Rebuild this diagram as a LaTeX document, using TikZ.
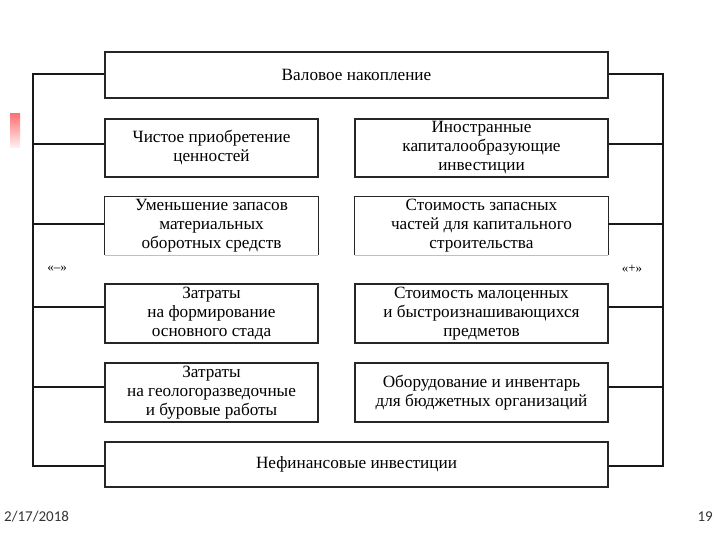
\documentclass[tikz,border=0pt]{standalone}
\usepackage{fontspec}
\setmainfont{Liberation Serif}
\newfontfamily\footfont{Carlito}
\begin{document}
\begin{tikzpicture}[x=1pt,y=-1pt,
  txt/.style={align=center,inner sep=0pt,font=\fontsize{17.2}{19}\selectfont},
  box/.style={txt,draw=black!85,line width=1.3pt,fill=white},
  bus/.style={line width=1.8pt,black!90}]
\useasboundingbox (0,0) rectangle (720,540);
\fill[white] (0,0) rectangle (720,540);
% decorative mark
\shade[top color=red!55,bottom color=red!5] (10,114) rectangle (20,148);
% boxes
\node[box,minimum width=503,minimum height=46] (top) at (356.5,75) {Валовое накопление};
\node[box,minimum width=213,minimum height=58] (l1) at (211.5,148) {Чистое приобретение\\ценностей};
\node[box,minimum width=253,minimum height=58] (r1) at (481.5,148) {Иностранные\\капиталообразующие\\инвестиции};
\node[txt,minimum width=213,minimum height=58] (l2) at (211.5,226) {Уменьшение запасов\\материальных\\оборотных средств};
\node[txt,minimum width=253,minimum height=58] (r2) at (481.5,226) {Стоимость запасных\\частей для капитального\\строительства};
\draw[line width=1.3pt,black!85] (l2.south west) -- (l2.north west) -- (l2.north east) -- (l2.south east);
\draw[line width=1.3pt,black!85] (r2.south west) -- (r2.north west) -- (r2.north east) -- (r2.south east);
\draw[line width=0.6pt,black!25] (l2.south west) -- (l2.south east);
\draw[line width=0.6pt,black!25] (r2.south west) -- (r2.south east);
\node[box,minimum width=213,minimum height=59] (l3) at (211.5,313.5) {Затраты\\на формирование\\основного стада};
\node[box,minimum width=253,minimum height=59] (r3) at (481.5,313.5) {Стоимость малоценных\\и быстроизнашивающихся\\предметов};
\node[box,minimum width=213,minimum height=59] (l4) at (211.5,392.5) {Затраты\\на геологоразведочные\\и буровые работы};
\node[box,minimum width=253,minimum height=59] (r4) at (481.5,392.5) {Оборудование и инвентарь\\для бюджетных организаций};
\node[box,minimum width=503,minimum height=45] (bot) at (356.5,464.5) {Нефинансовые инвестиции};
% bus coordinates
\coordinate (lt) at (33,74);
\coordinate (lb) at (33,466);
\coordinate (rt) at (663,74);
\coordinate (rb) at (663,466);
\draw[bus] (top.west |- 0,74) -- (lt) -- (lb) -- (bot.west |- 0,466);
\draw[bus] (top.east |- 0,74) -- (rt) -- (rb) -- (bot.east |- 0,466);
\foreach \n/\yy in {l1/144,l2/224,l3/307,l4/387}{
  \draw[bus] (lt |- 0,\yy) -- (\n.west |- 0,\yy);}
\foreach \n/\yy in {r1/144,r2/224,r3/307,r4/387}{
  \draw[bus] (rt |- 0,\yy) -- (\n.east |- 0,\yy);}
% signs
\node[font=\fontsize{13}{15}\selectfont] (minus) at (57,269) {«–»};
\node[font=\fontsize{13}{15}\selectfont] (plus) at (632,269) {«+»};
% footer
\node[font=\footfont\fontsize{15}{17}\selectfont,text=black!80,anchor=west,inner sep=0pt] (date) at (4,517) {2/17/2018};
\node[font=\footfont\fontsize{15}{17}\selectfont,text=black!80,anchor=east,inner sep=0pt] (page) at (713,517) {19};
\end{tikzpicture}
\end{document}
